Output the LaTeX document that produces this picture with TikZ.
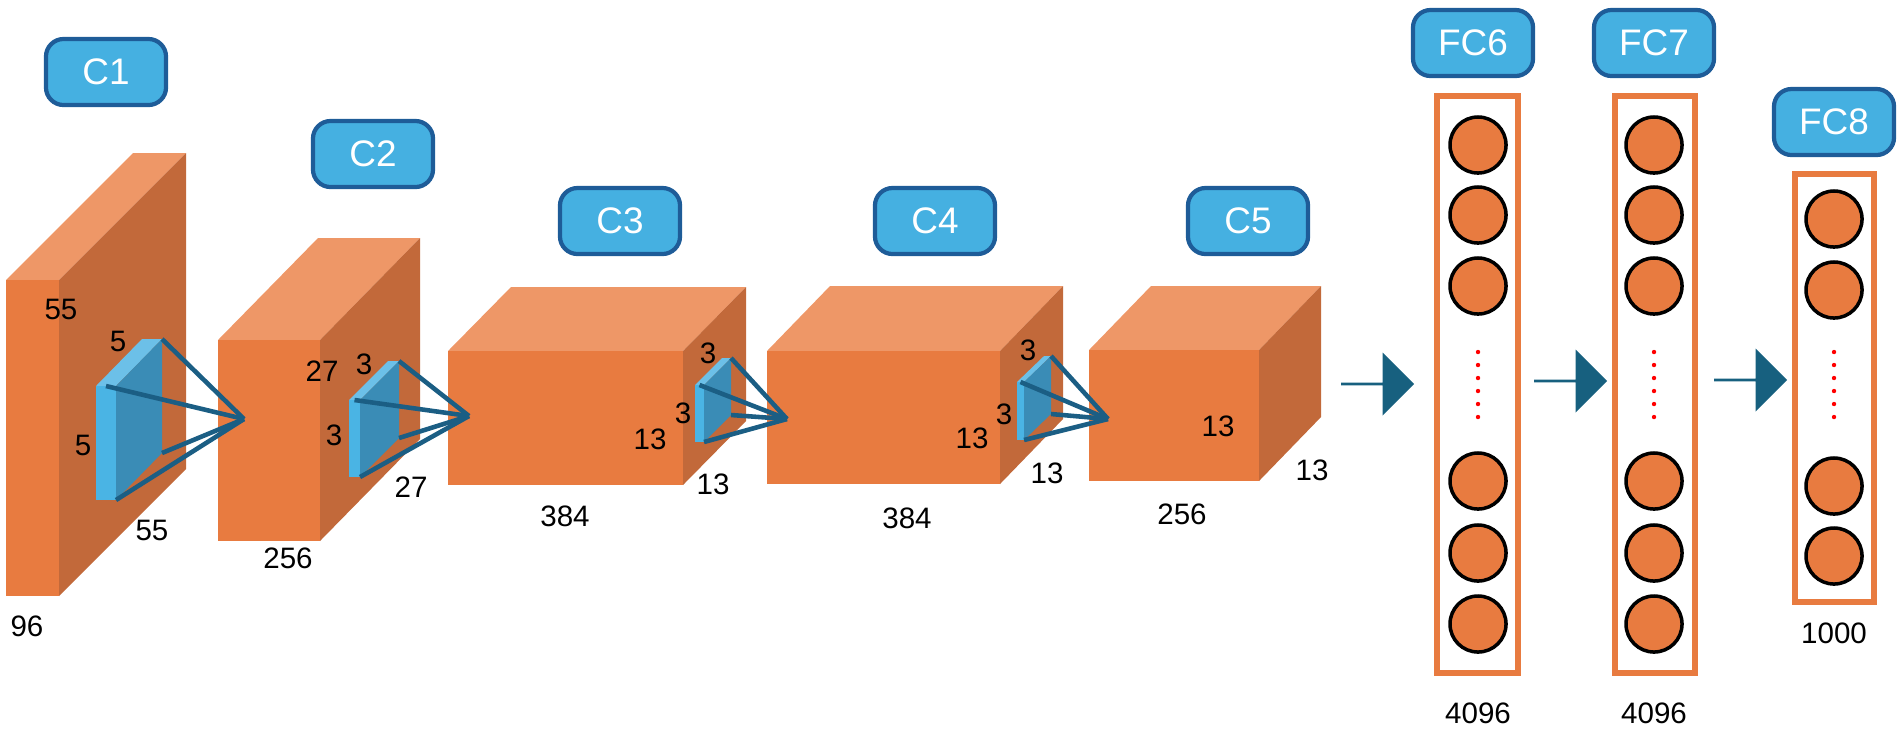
\documentclass[tikz,border=0pt]{standalone}
\usepackage{fontspec}
\setmainfont{Liberation Sans}
\usetikzlibrary{shapes.arrows}

\definecolor{frontor}{HTML}{E87B40}
\definecolor{sideor}{HTML}{C2693A}
\definecolor{topor}{HTML}{EE9767}
\definecolor{kfront}{HTML}{4AB4E4}
\definecolor{kside}{HTML}{3A8CB6}
\definecolor{ktop}{HTML}{6CC0E8}
\definecolor{kline}{HTML}{1B5E84}
\definecolor{tagfill}{HTML}{45B0E1}
\definecolor{tagline}{HTML}{1E5C98}
\definecolor{arrowblue}{HTML}{17607F}

\tikzset{
  tag/.style={draw=tagline,line width=1.2pt,fill=tagfill,rounded corners=5pt,
    minimum width=1.2cm,minimum height=0.66cm,text=white,font=\fontsize{10.5}{12}\selectfont},
  num/.style={font=\fontsize{8.4}{10}\selectfont,inner sep=0pt},
  neuron/.style={circle,draw=black,line width=1pt,fill=frontor,minimum size=0.56cm,inner sep=0pt},
  column/.style={draw=frontor,line width=1.7pt},
  kernelline/.style={draw=kline,line width=1.3pt},
  bigarrow/.style={single arrow,fill=arrowblue,minimum height=0.73cm,minimum width=0.63cm,
    single arrow head extend=0.16cm,inner sep=0pt}
}

% #1 left, #2 top, #3 width, #4 height, #5 depth x, #6 depth y
\newcommand{\layerbox}[6]{%
  \fill[topor] (#1,#2) -- ++(#5,-#6) -- ++(#3,0) -- ++(-#5,#6) -- cycle;
  \fill[sideor] (#1+#3,#2) -- ++(#5,-#6) -- ++(0,#4) -- ++(-#5,#6) -- cycle;
  \fill[frontor] (#1,#2) rectangle ++(#3,#4);
}
% same for the kernel, #7 = name of its corner points
\newcommand{\kernelbox}[7]{%
  \fill[ktop] (#1,#2) -- ++(#5,-#6) -- ++(#3,0) -- ++(-#5,#6) -- cycle;
  \fill[kside] (#1+#3,#2) -- ++(#5,-#6) -- ++(0,#4) -- ++(-#5,#6) -- cycle;
  \fill[kfront] (#1,#2) rectangle ++(#3,#4);
  \coordinate (#7-a) at (#1+#3/2,#2);
  \coordinate (#7-b) at (#1+#3+#5,#2-#6);
  \coordinate (#7-c) at (#1+#3+#5,#2+#4-#6);
  \coordinate (#7-d) at (#1+#3,#2+#4);
}

\begin{document}
\begin{tikzpicture}[x=0.01cm,y=-0.01cm]
  \useasboundingbox (0,0) rectangle (1901,732);

  % conv layers
  \layerbox{6}{280}{53}{316}{127}{127}
  \layerbox{218}{340}{102}{201}{100}{102}
  \layerbox{448}{351}{235}{134}{63}{64}
  \layerbox{767}{351}{233}{133}{63}{65}
  \layerbox{1089}{350}{170}{131}{62}{64}

  % kernels
  \kernelbox{96}{386}{20}{114}{46}{47}{ka}
  \kernelbox{349}{400}{11}{77}{39}{39}{kb}
  \kernelbox{695}{385}{9}{57}{27}{27}{kc}
  \kernelbox{1017}{382}{7}{58}{27}{26}{kd}
  \coordinate (pa) at (244,419);
  \coordinate (pb) at (469,416);
  \coordinate (pc) at (787,419);
  \coordinate (pd) at (1108,419);
  \foreach \k/\p in {ka/pa,kb/pb,kc/pc,kd/pd}
    \foreach \c in {a,b,c,d}
      \draw[kernelline] (\k-\c) -- (\p);

  % layer tags
  \node[tag] (c1) at (106,72) {C1};
  \node[tag] (c2) at (373,154) {C2};
  \node[tag] (c3) at (620,221) {C3};
  \node[tag] (c4) at (935,221) {C4};
  \node[tag] (c5) at (1248,221) {C5};
  \node[tag] (fc6) at (1473,43) {FC6};
  \node[tag] (fc7) at (1654,43) {FC7};
  \node[tag] (fc8) at (1834,122) {FC8};

  % sizes
  \node[num] (n1) at (61,309) {55};
  \node[num] (n2) at (118,341) {5};
  \node[num] (n3) at (83,445) {5};
  \node[num] (n4) at (152,530) {55};
  \node[num] (n5) at (27,626) {96};
  \node[num] (n6) at (322,371) {27};
  \node[num] (n7) at (364,364) {3};
  \node[num] (n8) at (334,435) {3};
  \node[num] (n9) at (411,487) {27};
  \node[num] (n10) at (288,558) {256};
  \node[num] (n11) at (708,353) {3};
  \node[num] (n12) at (683,413) {3};
  \node[num] (n13) at (650,439) {13};
  \node[num] (n14) at (713,484) {13};
  \node[num] (n15) at (565,516) {384};
  \node[num] (n16) at (1028,350) {3};
  \node[num] (n17) at (1004,414) {3};
  \node[num] (n18) at (972,438) {13};
  \node[num] (n19) at (1047,473) {13};
  \node[num] (n20) at (907,518) {384};
  \node[num] (n21) at (1218,426) {13};
  \node[num] (n22) at (1312,470) {13};
  \node[num] (n23) at (1182,514) {256};
  \node[num] (n24) at (1478,713) {4096};
  \node[num] (n25) at (1654,713) {4096};
  \node[num] (n26) at (1834,633) {1000};

  % arrows
  \node[bigarrow] (ar1) at (1377,384) {};
  \node[bigarrow] (ar2) at (1570,381) {};
  \node[bigarrow] (ar3) at (1750,380) {};

  % fully connected columns
  \draw[column] (1437,96) rectangle (1518,673);
  \draw[column] (1615,96) rectangle (1695,673);
  \draw[column] (1795,174) rectangle (1874,602);
  \foreach \y [count=\i] in {145,215,286,481,553,624} {
    \node[neuron] (f6-\i) at (1478,\y) {};
    \node[neuron] (f7-\i) at (1654,\y) {};
  }
  \foreach \y [count=\i] in {219,290,486,556}
    \node[neuron] (f8-\i) at (1834,\y) {};
  \foreach \x in {1478,1654,1834}
    \foreach \y in {352,365,378,391,404,417}
      \fill[red] (\x,\y) circle (2.2);
\end{tikzpicture}
\end{document}
